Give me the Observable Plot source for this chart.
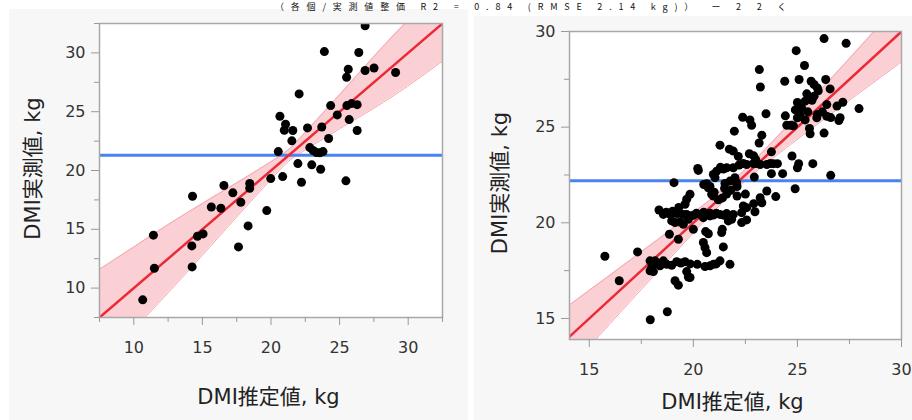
<!DOCTYPE html>
<html><head><meta charset="utf-8">
<script src="https://cdn.jsdelivr.net/npm/d3@7"></script>
<script src="https://cdn.jsdelivr.net/npm/@observablehq/plot@0.6"></script>
<style>
html,body{margin:0;padding:0;background:#fff;overflow:hidden}
#wrap{position:relative;width:912px;height:420px;overflow:hidden;background:#fff}
.panel{position:absolute;background:#f7f7f7}
.panel svg{display:block}
#title{position:absolute;left:275px;top:1px;font-size:9px;line-height:11px;letter-spacing:6.8px;font-family:'Noto Sans CJK JP','DejaVu Sans',sans-serif;white-space:nowrap;color:#111;z-index:2}
</style></head><body>
<div id="wrap">
<div class="panel" id="p1" style="left:9px;top:9px;width:459px;height:411px"></div>
<div class="panel" id="p2" style="left:474px;top:16px;width:438px;height:404px"></div>
<div id="title">（各個/実測値整価 R2 = 0.84 (RMSE 2.14 kg)）　ー 2 2 く</div>
</div>
<script>
// ---- Left panel data ----
const leftX = [10.65,11.43,11.5,14.28,14.23,14.25,14.64,15.05,15.65,16.35,16.57,17.22,17.8,17.63,18.33,18.45,18.45,19.69,19.98,20.53,20.85,20.65,21.06,20.97,21.59,21.52,22.05,21.96,22.22,22.66,22.83,23.07,22.97,23.31,23.55,23.7,23.79,23.62,23.89,24.2,24.35,24.83,25.46,25.51,25.63,25.53,25.7,25.87,26.28,26.4,26.28,26.86,26.86,27.51,29.08];
const leftY = [9.0,14.5,11.69,17.81,13.59,11.8,14.41,14.61,16.9,16.79,18.72,18.1,17.3,13.5,15.29,18.89,18.49,16.59,19.31,21.61,19.48,24.61,23.93,23.42,23.4,22.52,26.51,20.59,19.0,23.62,21.95,21.7,20.48,21.52,21.5,23.7,21.61,20.11,30.11,22.72,25.52,24.73,19.12,27.93,28.61,25.52,24.33,25.69,25.6,30.03,23.4,32.3,28.5,28.72,28.33];
const leftFitX = [7.5, 32.5];
const leftFitY = [7.5, 32.5];
const leftMean = 21.3;
const leftBandX  = [7.5, 10, 12.5, 15, 17.5, 20, 21.3, 22.5, 25, 27.5, 30, 32.5];
const leftBandLo = [3.4, 6.5, 9.6, 12.8, 16.05, 19.25, 20.8, 21.75, 23.55, 25.3, 27.2, 29.3];
const leftBandHi = [11.6, 13.5, 15.4, 17.2, 18.95, 20.75, 21.8, 23.25, 26.45, 29.7, 32.8, 35.7];
const leftMajor = [10, 15, 20, 25, 30];
const leftMinor = [7.5, 12.5, 17.5, 22.5, 27.5, 32.5];

// ---- Right panel data ----
const rightPts = [[26.28,29.63],[27.34,29.38],[24.94,29.0],[25.34,28.22],[23.17,28.01],[23.22,27.1],[24.39,27.4],[25.08,27.49],[25.66,27.4],[25.8,27.23],[25.96,27.05],[26.36,27.49],[26.57,27.0],[25.45,26.74],[25.37,26.36],[25.8,26.62],[25.0,26.29],[27.18,26.3],[27.96,25.97],[26.41,26.18],[25.96,25.66],[25.93,25.49],[26.41,25.57],[27.05,25.49],[26.99,25.35],[24.42,25.59],[25.0,25.49],[25.37,25.38],[25.13,25.57],[25.58,24.93],[25.61,24.65],[26.28,24.69],[24.49,25.1],[24.81,25.07],[24.68,25.1],[22.37,25.52],[22.72,25.38],[22.8,25.1],[23.49,25.7],[21.97,24.79],[23.29,24.58],[23.16,24.17],[21.28,24.06],[21.73,23.85],[21.92,23.75],[22.69,23.61],[22.16,23.47],[23.75,23.71],[24.74,23.49],[25.06,23.09],[25.0,22.88],[25.74,23.09],[26.6,22.48],[24.89,21.78],[24.29,22.57],[23.75,22.57],[23.53,21.66],[23.96,21.37],[22.93,22.39],[22.56,23.05],[22.88,23.09],[23.21,23.05],[23.53,23.05],[23.85,23.09],[24.04,23.09],[22.2,23.02],[21.92,22.88],[21.6,22.88],[21.44,22.81],[21.12,22.7],[20.96,22.53],[21.04,22.36],[20.21,22.84],[20.24,22.74],[19.07,22.1],[20.64,22.04],[20.72,21.83],[20.88,21.49],[20.96,21.4],[21.52,22.06],[21.76,22.18],[22.0,22.36],[22.08,22.1],[19.84,21.49],[19.68,21.23],[19.6,20.97],[18.35,20.67],[18.56,20.44],[18.88,20.44],[19.2,20.48],[19.52,20.44],[19.68,20.44],[20.0,20.39],[20.32,20.44],[20.64,20.44],[20.96,20.41],[21.28,20.44],[21.6,20.48],[21.92,20.44],[21.84,20.18],[21.68,20.1],[18.96,20.1],[19.12,20.01],[19.36,20.04],[19.52,19.92],[19.76,20.18],[20.48,20.27],[20.8,20.36],[22.4,20.88],[22.56,20.79],[22.32,20.53],[22.96,20.58],[23.29,21.05],[23.21,21.31],[22.32,20.01],[22.56,20.15],[20.0,19.66],[20.59,19.54],[20.72,19.43],[21.39,19.66],[21.36,19.49],[18.85,19.4],[19.28,19.14],[20.48,18.97],[20.56,18.7],[20.64,18.44],[21.44,18.74],[15.75,18.25],[17.32,18.48],[16.44,16.97],[17.92,18.01],[18.16,18.01],[18.0,17.66],[17.92,17.49],[18.08,17.45],[18.56,18.01],[18.72,17.83],[18.96,17.78],[19.2,17.97],[19.6,17.97],[20.19,17.83],[20.56,17.71],[20.96,17.83],[21.28,18.01],[21.76,17.83],[19.12,16.97],[19.28,16.74],[19.68,17.45],[19.76,17.17],[19.84,17.14],[18.75,15.35],[17.93,14.93],[18.7,20.55],[19.0,20.6],[19.35,20.5],[19.85,20.35],[20.15,20.5],[20.5,20.55],[20.8,20.5],[21.1,20.5],[21.45,20.4],[21.7,20.35],[18.3,17.9],[18.4,17.75],[19.4,17.9],[19.85,17.85],[20.8,17.75],[21.1,17.85],[22.4,23.1],[23.0,23.1],[23.7,23.1],[21.3,22.9],[20.5,22.0],[20.8,21.9],[21.0,21.6],[21.2,21.2],[21.4,21.3],[21.6,21.5],[21.8,21.7],[22.1,21.9],[21.5,21.8],[25.2,26.0],[25.5,25.8],[26.0,26.9],[25.7,26.4],[26.6,25.5],[26.2,25.8],[25.1,25.8],[24.9,25.9],[26.9,26.1],[22.1,21.4],[22.5,21.5],[22.9,21.0],[19.3,20.8],[22.9,23.5],[23.0,23.3]];
const rightX = rightPts.map(d => d[0]);
const rightY = rightPts.map(d => d[1]);
const rightFitX = [14.05, 30];
const rightFitY = [14.05, 30];
const rightMean = 22.2;
const rightBandX  = [14, 16, 18, 20, 21, 22.2, 23, 24, 26, 28, 30];
const rightBandLo = [12.33, 14.73, 17.11, 19.47, 20.62, 21.9, 22.66, 23.53, 25.19, 26.81, 28.41];
const rightBandHi = [15.67, 17.27, 18.89, 20.53, 21.38, 22.5, 23.34, 24.47, 26.81, 29.19, 31.59];
const rightMajor = [15, 20, 25, 30];
const rightMinor = [17.5, 22.5, 27.5];

const xLabel = "DMI推定値, kg";
const yLabel = "DMI実測値, kg";

const FONT = "'DejaVu Sans', 'Noto Sans CJK JP', sans-serif";

function panel(cfg) {
  const pts = cfg.x.map((v, i) => ({x: v, y: cfg.y[i]}));
  const band = cfg.bandX.map((v, i) => ({x: v, lo: cfg.bandLo[i], hi: cfg.bandHi[i]}));
  const fit = cfg.fitX.map((v, i) => ({x: v, y: cfg.fitY[i]}));
  return Plot.plot({
    width: cfg.width, height: cfg.height,
    marginLeft: cfg.ml, marginRight: cfg.mr, marginTop: cfg.mt, marginBottom: cfg.mb,
    style: {fontFamily: FONT, fontSize: "16px", background: "transparent", color: "#333", overflow: "visible"},
    x: {domain: cfg.xDomain, axis: null},
    y: {domain: cfg.yDomain, axis: null},
    marks: [
      Plot.frame({fill: "white", stroke: null}),
      Plot.areaY(band, {x: "x", y1: "lo", y2: "hi", curve: "natural", fill: "#fbd0d5", clip: true}),
      Plot.lineY(band, {x: "x", y: "lo", curve: "natural", stroke: "#f4a6ae", strokeWidth: 1, clip: true}),
      Plot.lineY(band, {x: "x", y: "hi", curve: "natural", stroke: "#f4a6ae", strokeWidth: 1, clip: true}),
      Plot.ruleY([cfg.mean], {stroke: "#4a82f0", strokeWidth: 3}),
      Plot.line(fit, {x: "x", y: "y", stroke: "#ec2a36", strokeWidth: 2.5, clip: true}),
      Plot.dot(pts, {x: "x", y: "y", r: 4.5, fill: "#000", stroke: null, clip: true}),
      Plot.frame({stroke: "#a8a8a8", strokeWidth: 1.5}),
      Plot.axisX(cfg.major, {label: null, tickSize: 8, tickPadding: 16, stroke: "#999", fill: "#333", fontSize: 16, fontFamily: FONT}),
      Plot.axisX(cfg.minor, {label: null, tickSize: 5, stroke: "#999", tickFormat: () => ""}),
      Plot.axisY(cfg.major, {label: null, tickSize: 8, tickPadding: 6, stroke: "#999", fill: "#333", fontSize: 16, fontFamily: FONT}),
      Plot.axisY(cfg.minor, {label: null, tickSize: 5, stroke: "#999", tickFormat: () => ""}),
      Plot.text([xLabel], {text: d => d, frameAnchor: "bottom", dx: cfg.xlDx, dy: cfg.xlDy, textAnchor: "middle", lineAnchor: "middle", fontSize: 21, fontFamily: FONT, fill: "#222"}),
      Plot.text([yLabel], {text: d => d, frameAnchor: "left", dx: cfg.ylDx, dy: cfg.ylDy, rotate: -90, textAnchor: "middle", lineAnchor: "middle", fontSize: 21, fontFamily: FONT, fill: "#222"})
    ]
  });
}

document.getElementById("p1").appendChild(panel({
  x: leftX, y: leftY, bandX: leftBandX, bandLo: leftBandLo, bandHi: leftBandHi,
  fitX: leftFitX, fitY: leftFitY, mean: leftMean, major: leftMajor, minor: leftMinor,
  width: 459, height: 411, ml: 90, mr: 26, mt: 14, mb: 103,
  xDomain: [7.5, 32.5], yDomain: [7.5, 32.5],
  xlDx: -2.5, xlDy: 80, ylDx: -66, ylDy: -2
}));
document.getElementById("p2").appendChild(panel({
  x: rightX, y: rightY, bandX: rightBandX, bandLo: rightBandLo, bandHi: rightBandHi,
  fitX: rightFitX, fitY: rightFitY, mean: rightMean, major: rightMajor, minor: rightMinor,
  width: 438, height: 404, ml: 95, mr: 11, mt: 15, mb: 81,
  xDomain: [14.05, 30], yDomain: [13.9, 30],
  xlDx: -3, xlDy: 63, ylDx: -69, ylDy: -2.5
}));
</script>
</body></html>
